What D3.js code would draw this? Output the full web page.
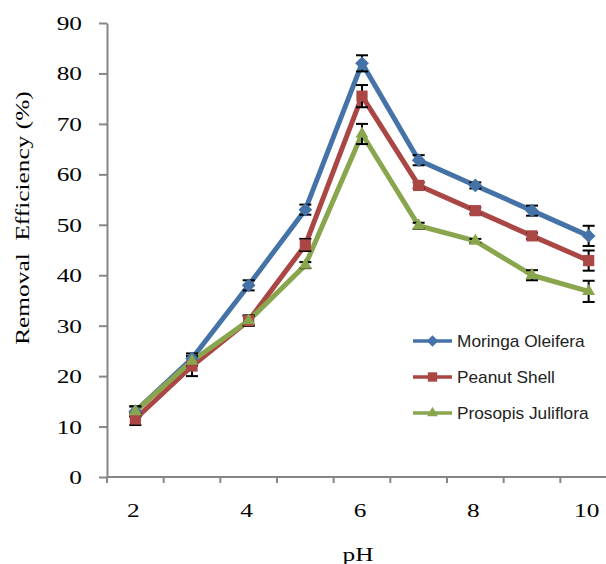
<!DOCTYPE html>
<html>
<head>
<meta charset="utf-8">
<script src="https://cdn.jsdelivr.net/npm/d3@7"></script>
<style>
  body { margin: 0; background: #fff; }
  svg { display: block; }
</style>
</head>
<body>
<div class="chart"></div>
<script>
const phValues = [2, 3, 4, 5, 6, 7, 8, 9, 10];
const xTickLabels = [2, 4, 6, 8, 10];
const yTicks = [0, 10, 20, 30, 40, 50, 60, 70, 80, 90];

const moringa = [13, 23.5, 38, 53, 82, 62.8, 57.8, 52.8, 47.8];
const moringaErr = [1, 1, 1, 1, 1.6, 1, 0.6, 1, 2];
const peanut = [11.5, 22, 31, 46, 75.5, 57.8, 52.8, 47.8, 42.9];
const peanutErr = [1.2, 2, 1, 1.2, 2.2, 0.6, 0.6, 0.6, 2];
const prosopis = [13, 23, 31, 42, 68, 49.8, 46.8, 40, 36.8];
const prosopisErr = [1, 1, 1, 0.6, 2, 0.6, 0.4, 1, 2.1];

const series = [
  { name: 'Moringa Oleifera', values: moringa, err: moringaErr, color: '#4572A7', symbol: d3.symbolDiamond2, size: 120 },
  { name: 'Peanut Shell', values: peanut, err: peanutErr, color: '#AA4643', symbol: d3.symbolSquare2, size: 160 },
  { name: 'Prosopis Juliflora', values: prosopis, err: prosopisErr, color: '#89A54E', symbol: d3.symbolTriangle2, size: 120 }
];

const width = 606, height = 564;
const svg = d3.select('.chart').append('svg')
  .attr('width', width)
  .attr('height', height);

const x = d3.scaleLinear().domain([1.5, 10.5]).range([107, 617]);
const y = d3.scaleLinear().domain([0, 90]).range([477, 23]);

const axisColor = '#868686';
const serif = '"Liberation Serif", "Times New Roman", serif';

// the original text is a bit wider than plain Times, so stretch it sideways
function wideText(parent, tx, ty, str, anchor, rotate) {
  return parent.append('text')
    .attr('transform', `translate(${tx},${ty})` + (rotate ? ` rotate(${rotate})` : '') + ' scale(1.3,1)')
    .attr('text-anchor', anchor)
    .attr('xml:space', 'preserve')
    .style('font-family', serif)
    .style('font-size', '19.5px')
    .attr('fill', '#000')
    .text(str);
}

// y axis
const yAxis = svg.append('g')
  .attr('transform', 'translate(107,0)')
  .call(d3.axisLeft(y).tickValues(yTicks).tickSize(8).tickFormat('').tickSizeOuter(0));
yAxis.select('.domain').attr('stroke', axisColor).attr('stroke-width', 2);
yAxis.selectAll('.tick line').attr('stroke', axisColor).attr('stroke-width', 2);
yTicks.forEach(t => wideText(svg, 82, y(t) + 7, t, 'end'));

// x axis: ticks between categories, labels on every other category
const xAxis = svg.append('g').attr('transform', 'translate(0,477)');
xAxis.append('line')
  .attr('x1', x(1.5)).attr('x2', x(10.5))
  .attr('stroke', axisColor).attr('stroke-width', 2);
xAxis.selectAll('.xtick')
  .data(d3.range(1.5, 11, 1))
  .join('line')
  .attr('class', 'xtick')
  .attr('x1', d => x(d)).attr('x2', d => x(d))
  .attr('y1', 0).attr('y2', 6)
  .attr('stroke', axisColor).attr('stroke-width', 2);
xTickLabels.forEach(t => wideText(svg, x(t) - 2, 517, t, 'middle'));

// axis titles
wideText(svg, 29, 218, 'Removal  Efficiency (%)', 'middle', -90);
wideText(svg, 358, 561, 'pH', 'middle');

// lines
const line = d3.line()
  .x((d, i) => x(phValues[i]))
  .y(d => y(d));

series.forEach(s => {
  svg.append('path')
    .datum(s.values)
    .attr('fill', 'none')
    .attr('stroke', s.color)
    .attr('stroke-width', 5)
    .attr('stroke-linejoin', 'round')
    .attr('d', line);
});

// error bars
series.forEach(s => {
  const g = svg.append('g');
  s.values.forEach((v, i) => {
    const cx = x(phValues[i]);
    const lo = y(v - s.err[i]), hi = y(v + s.err[i]);
    g.append('line').attr('x1', cx).attr('x2', cx).attr('y1', lo).attr('y2', hi)
      .attr('stroke', '#000').attr('stroke-width', 2);
    [lo, hi].forEach(yy => {
      g.append('line').attr('x1', cx - 6).attr('x2', cx + 6).attr('y1', yy).attr('y2', yy)
        .attr('stroke', '#000').attr('stroke-width', 2);
    });
  });
});

// markers
series.forEach(s => {
  svg.append('g')
    .selectAll('path')
    .data(s.values)
    .join('path')
    .attr('transform', (d, i) => `translate(${x(phValues[i])},${y(d)})`)
    .attr('d', d3.symbol().type(s.symbol).size(s.size))
    .attr('fill', s.color);
});

// legend
const legend = svg.append('g').attr('transform', 'translate(413,341)');
series.forEach((s, i) => {
  const g = legend.append('g').attr('transform', `translate(0,${i * 36})`);
  g.append('line').attr('x1', 0).attr('x2', 39).attr('y1', 0).attr('y2', 0)
    .attr('stroke', s.color).attr('stroke-width', 3.5);
  g.append('path')
    .attr('transform', 'translate(19.5,0)')
    .attr('d', d3.symbol().type(s.symbol).size(s.size * 0.7))
    .attr('fill', s.color);
  g.append('text')
    .attr('transform', 'translate(44,6) scale(1.08,1)')
    .style('font-family', '"Liberation Sans", Arial, sans-serif')
    .style('font-size', '16px')
    .attr('fill', '#222')
    .text(s.name);
});
</script>
</body>
</html>
